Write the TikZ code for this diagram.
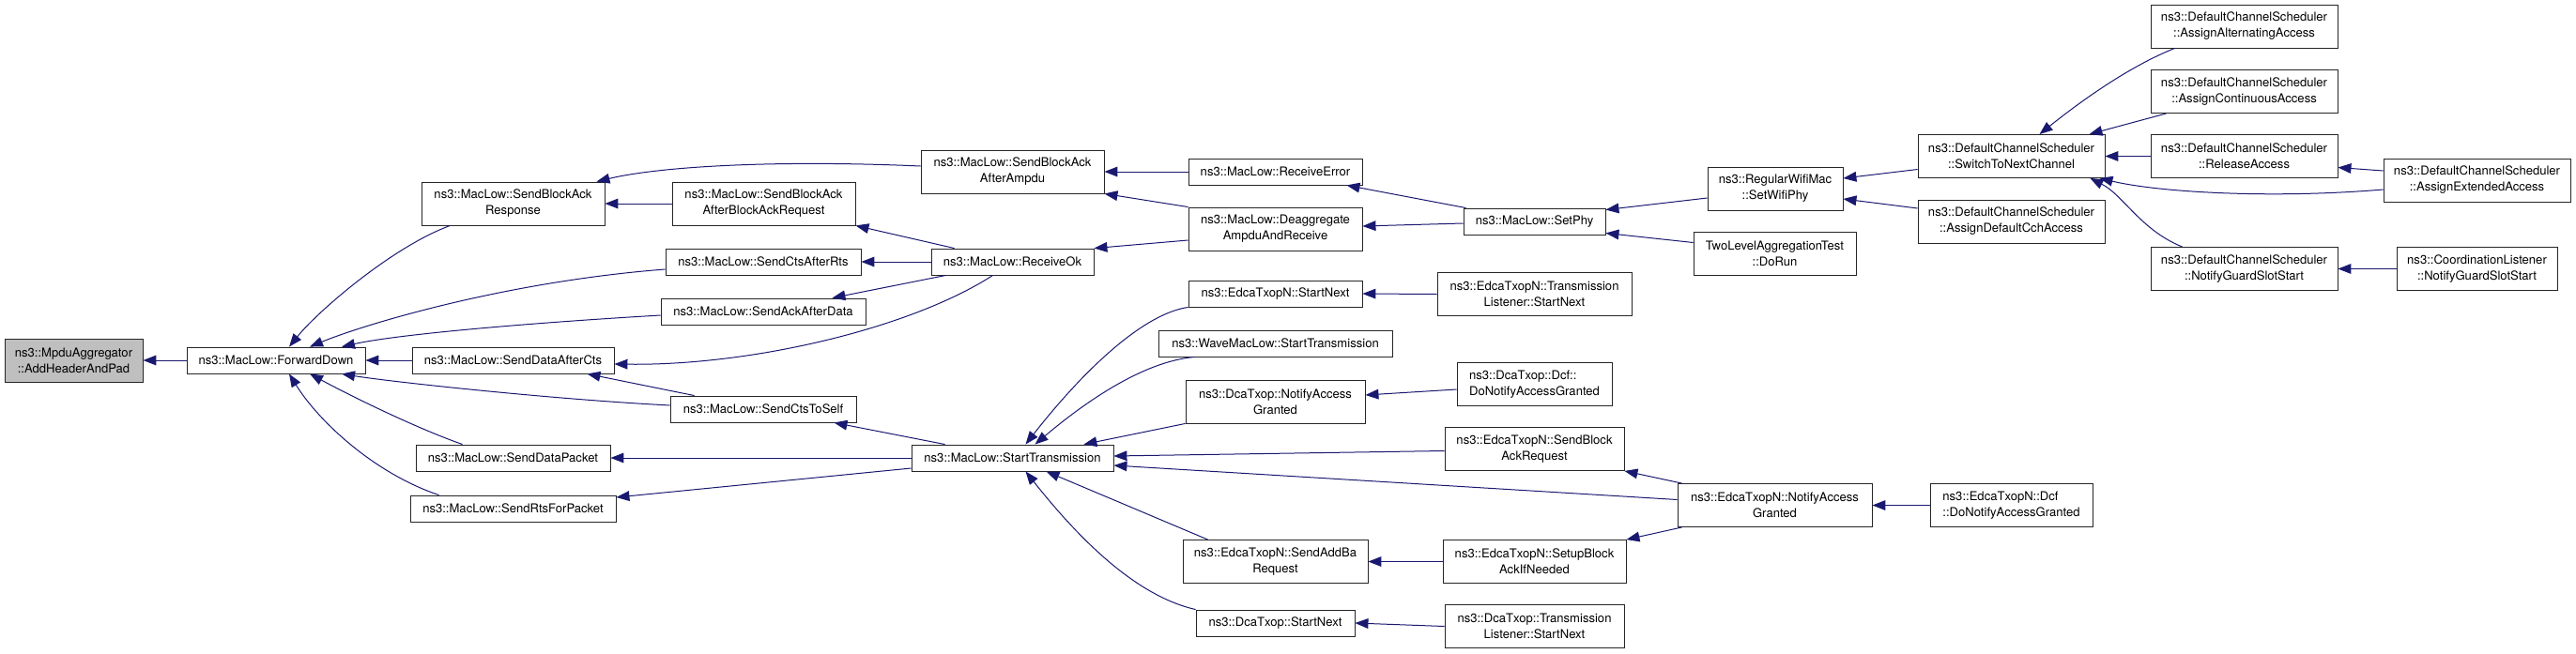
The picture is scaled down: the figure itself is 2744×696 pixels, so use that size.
\documentclass[tikz,border=0pt]{standalone}
\usepackage{fontspec}
\setmainfont{TeX Gyre Heros}
\usetikzlibrary{arrows.meta,calc}
\tikzset{every picture/.style={line width=0.75pt}}
\definecolor{edgeblue}{RGB}{25,25,112}
\definecolor{rootgray}{RGB}{191,191,191}
\tikzset{
  fn/.style={draw=black!85, line width=0.65pt, inner sep=0pt, align=center, minimum height=21pt, font=\fontsize{9.8}{12.75}\selectfont},
  fntwo/.style={fn, minimum height=34.5pt},
  boxw/.style={minimum width=#1*0.75pt},
  call/.style={draw=edgeblue, line width=0.75pt, <-, >={Triangle[length=10.5pt,width=8pt]}},
}

\begin{document}
\begin{tikzpicture}[x=0.75pt,y=0.75pt,yscale=-1,xscale=1]
    %set diagram size: 2744 x 696
    \useasboundingbox (0,0) rectangle (2744,696);

    % Text Node: root
    \node[fntwo, boxw=147, fill=rootgray] (ahp) at (78.5,384) {ns3::MpduAggregator\\::AddHeaderAndPad};
    % Text Node
    \node[fn, boxw=190] (fwd) at (294,384) {ns3::MacLow::ForwardDown};
    % Text Node
    \node[fntwo, boxw=195] (sbar) at (546.5,217) {ns3::MacLow::SendBlockAck\\Response};
    \node[fn, boxw=215] (sdac) at (546.5,384) {ns3::MacLow::SendDataAfterCts};
    \node[fn, boxw=207] (sdp) at (546.5,488) {ns3::MacLow::SendDataPacket};
    \node[fn, boxw=219] (srfp) at (546.5,542) {ns3::MacLow::SendRtsForPacket};
    % Text Node
    \node[fntwo, boxw=195] (sbaa) at (813.5,217) {ns3::MacLow::SendBlockAck\\AfterBlockAckRequest};
    \node[fn, boxw=208] (scar) at (813,279) {ns3::MacLow::SendCtsAfterRts};
    \node[fn, boxw=218] (saad) at (813,332) {ns3::MacLow::SendAckAfterData};
    \node[fn, boxw=198] (scts) at (813,436) {ns3::MacLow::SendCtsToSelf};
    % Text Node
    \node[fntwo, boxw=195] (sbam) at (1078.5,183) {ns3::MacLow::SendBlockAck\\AfterAmpdu};
    \node[fn, boxw=173] (rok) at (1078.5,279) {ns3::MacLow::ReceiveOk};
    \node[fn, boxw=215] (stx) at (1078.5,488) {ns3::MacLow::StartTransmission};
    % Text Node
    \node[fn, boxw=185] (rerr) at (1358.5,183) {ns3::MacLow::ReceiveError};
    \node[fntwo, boxw=185] (deag) at (1358.5,244) {ns3::MacLow::Deaggregate\\AmpduAndReceive};
    \node[fn, boxw=185] (esn) at (1358.5,313) {ns3::EdcaTxopN::StartNext};
    \node[fn, boxw=249] (wave) at (1358.5,366) {ns3::WaveMacLow::StartTransmission};
    \node[fntwo, boxw=191] (dnag) at (1358.5,428) {ns3::DcaTxop::NotifyAccess\\Granted};
    \node[fntwo, boxw=197] (eaba) at (1358.5,598.5) {ns3::EdcaTxopN::SendAddBa\\Request};
    \node[fn, boxw=169] (dsn) at (1358.5,664) {ns3::DcaTxop::StartNext};
    % Text Node
    \node[fn, boxw=151] (setp) at (1634.5,236) {ns3::MacLow::SetPhy};
    \node[fntwo, boxw=207] (etl) at (1634.5,313.5) {ns3::EdcaTxopN::Transmission\\Listener::StartNext};
    \node[fntwo, boxw=165, align=left] (ddna) at (1634.5,409.5) {ns3::DcaTxop::Dcf::\\DoNotifyAccessGranted};
    \node[fntwo, boxw=191] (esbr) at (1634.5,478.5) {ns3::EdcaTxopN::SendBlock\\AckRequest};
    \node[fntwo, boxw=195] (esba) at (1634.5,598.5) {ns3::EdcaTxopN::SetupBlock\\AckIfNeeded};
    \node[fntwo, boxw=191] (dtl) at (1634.5,667.5) {ns3::DcaTxop::Transmission\\Listener::StartNext};
    % Text Node
    \node[fntwo, boxw=144] (swp) at (1891,201) {ns3::RegularWifiMac\\::SetWifiPhy};
    \node[fntwo, boxw=173] (drun) at (1890.5,270.5) {TwoLevelAggregationTest\\::DoRun};
    \node[fntwo, boxw=207] (enag) at (1890.5,538.5) {ns3::EdcaTxopN::NotifyAccess\\Granted};
    % Text Node
    \node[fntwo, boxw=199] (stnc) at (2142.5,166.5) {ns3::DefaultChannelScheduler\\::SwitchToNextChannel};
    \node[fntwo, boxw=199] (adca) at (2142.5,236) {ns3::DefaultChannelScheduler\\::AssignDefaultCchAccess};
    \node[fntwo, boxw=173, align=left] (ednag) at (2142.5,538.5) {ns3::EdcaTxopN::Dcf\\::DoNotifyAccessGranted};
    % Text Node
    \node[fntwo, boxw=199] (aalt) at (2390.5,28) {ns3::DefaultChannelScheduler\\::AssignAlternatingAccess};
    \node[fntwo, boxw=199] (acon) at (2390.5,97.5) {ns3::DefaultChannelScheduler\\::AssignContinuousAccess};
    \node[fntwo, boxw=199] (rel) at (2390.5,166.5) {ns3::DefaultChannelScheduler\\::ReleaseAccess};
    \node[fntwo, boxw=199] (ngss) at (2390.5,286.5) {ns3::DefaultChannelScheduler\\::NotifyGuardSlotStart};
    % Text Node
    \node[fntwo, boxw=199] (aext) at (2638.5,192) {ns3::DefaultChannelScheduler\\::AssignExtendedAccess};
    \node[fntwo, boxw=171] (cl) at (2638.5,286.5) {ns3::CoordinationListener\\::NotifyGuardSlotStart};

    %Straight Lines: into the root and ForwardDown
    \draw[call] (ahp.east) -- (fwd.west);
    \draw[call] ($(fwd.north)+(14,0)$) .. controls (340,330) and (420,262) .. ($(sbar.south west)+(31,0)$);
    \draw[call] ($(fwd.north)+(36,0)$) .. controls (390,345) and (540,300) .. ($(scar.west)+(0,8)$);
    \draw[call] ($(fwd.north)+(70,0)$) .. controls (420,357) and (550,345) .. ($(saad.west)+(0,4)$);
    \draw[call] (fwd.east) -- (sdac.west);
    \draw[call] ($(fwd.south)+(70,0)$) .. controls (410,406) and (580,425) .. ($(scts.west)+(0,-4)$);
    \draw[call] ($(fwd.south)+(36,0)$) .. controls (370,420) and (440,455) .. ($(sdp.north west)+(50,0)$);
    \draw[call] ($(fwd.south)+(14,0)$) .. controls (340,450) and (400,505) .. ($(srfp.north west)+(31,0)$);

    %Straight Lines: MacLow callers
    \draw[call] (sbar.east) -- (sbaa.west);
    \draw[call] ($(sbar.north east)+(-9,0)$) .. controls (700,178) and (820,170) .. ($(sbam.west)+(0,-6)$);
    \draw[call] (sbaa.south east) -- ($(rok.north west)+(25,0)$);
    \draw[call] (scar.east) -- (rok.west);
    \draw[call] ($(saad.north east)+(-36,0)$) -- ($(rok.south west)+(16,0)$);
    \draw[call] ($(sdac.east)+(0,4)$) .. controls (800,390) and (970,350) .. ($(rok.south west)+(66,0)$);
    \draw[call] ($(sdac.south east)+(-29,0)$) -- ($(scts.north west)+(26,0)$);
    \draw[call] ($(scts.south east)+(-24,0)$) -- ($(stx.north west)+(36,0)$);
    \draw[call] (sdp.east) -- (stx.west);
    \draw[call] ($(srfp.east)+(0,-12)$) -- ($(stx.west)+(0,11)$);
    \draw[call] (sbam.east) -- (rerr.west);
    \draw[call] (sbam.south east) -- (deag.north west);
    \draw[call] (rok.north east) -- ($(deag.west)+(0,12)$);
    \draw[call] ($(rerr.south east)+(-17,0)$) -- ($(setp.north west)+(3,0)$);
    \draw[call] ($(deag.east)+(0,-3)$) -- ($(setp.west)+(0,2)$);
    \draw[call] ($(setp.north east)+(0,2)$) -- ($(swp.west)+(0,10)$);
    \draw[call] ($(setp.south east)+(0,-2)$) -- ($(drun.west)+(0,-12)$);

    %Straight Lines: channel scheduler
    \draw[call] ($(swp.east)+(0,-11)$) -- ($(stnc.west)+(0,14)$);
    \draw[call] ($(swp.east)+(0,11)$) -- ($(adca.west)+(0,-14)$);
    \draw[call] ($(stnc.north)+(30,0)$) .. controls (2220,105) and (2270,70) .. ($(aalt.south west)+(26,0)$);
    \draw[call] ($(stnc.north east)+(-17,0)$) -- ($(acon.south west)+(17,0)$);
    \draw[call] (stnc.east) -- (rel.west);
    \draw[call] ($(stnc.south east)+(-6,0)$) .. controls (2300,205) and (2420,212) .. ($(aext.west)+(0,10)$);
    \draw[call] ($(stnc.south east)+(-16,0)$) .. controls (2262,208) and (2280,245) .. ($(ngss.north west)+(34,0)$);
    \draw[call] ($(rel.east)+(0,12)$) -- ($(aext.west)+(0,-10)$);
    \draw[call] (ngss.east) -- (cl.west);

    %Straight Lines: StartTransmission callers
    \draw[call] ($(stx.north)+(14,0)$) .. controls (1150,400) and (1215,335) .. (esn.south west);
    \draw[call] ($(stx.north)+(24,0)$) .. controls (1160,425) and (1220,385) .. ($(wave.south west)+(39,0)$);
    \draw[call] ($(stx.north east)+(-32,0)$) -- (dnag.south west);
    \draw[call] ($(stx.east)+(0,-2)$) -- ($(esbr.west)+(0,2)$);
    \draw[call] ($(stx.east)+(0,8)$) -- ($(enag.west)+(0,-6)$);
    \draw[call] ($(stx.south)+(36,0)$) -- ($(eaba.north west)+(27,0)$);
    \draw[call] ($(stx.south)+(14,0)$) .. controls (1150,575) and (1210,635) .. (dsn.north west);
    \draw[call] (esn.east) -- (etl.west);
    \draw[call] ($(dnag.east)+(0,-7)$) -- ($(ddna.west)+(0,5.5)$);
    \draw[call] (esbr.south east) -- ($(enag.north west)+(5,0)$);
    \draw[call] (esba.north east) -- ($(enag.south west)+(5,0)$);
    \draw[call] (eaba.east) -- (esba.west);
    \draw[call] (dsn.east) -- (dtl.west);
    \draw[call] (enag.east) -- (ednag.west);
\end{tikzpicture}
\end{document}
